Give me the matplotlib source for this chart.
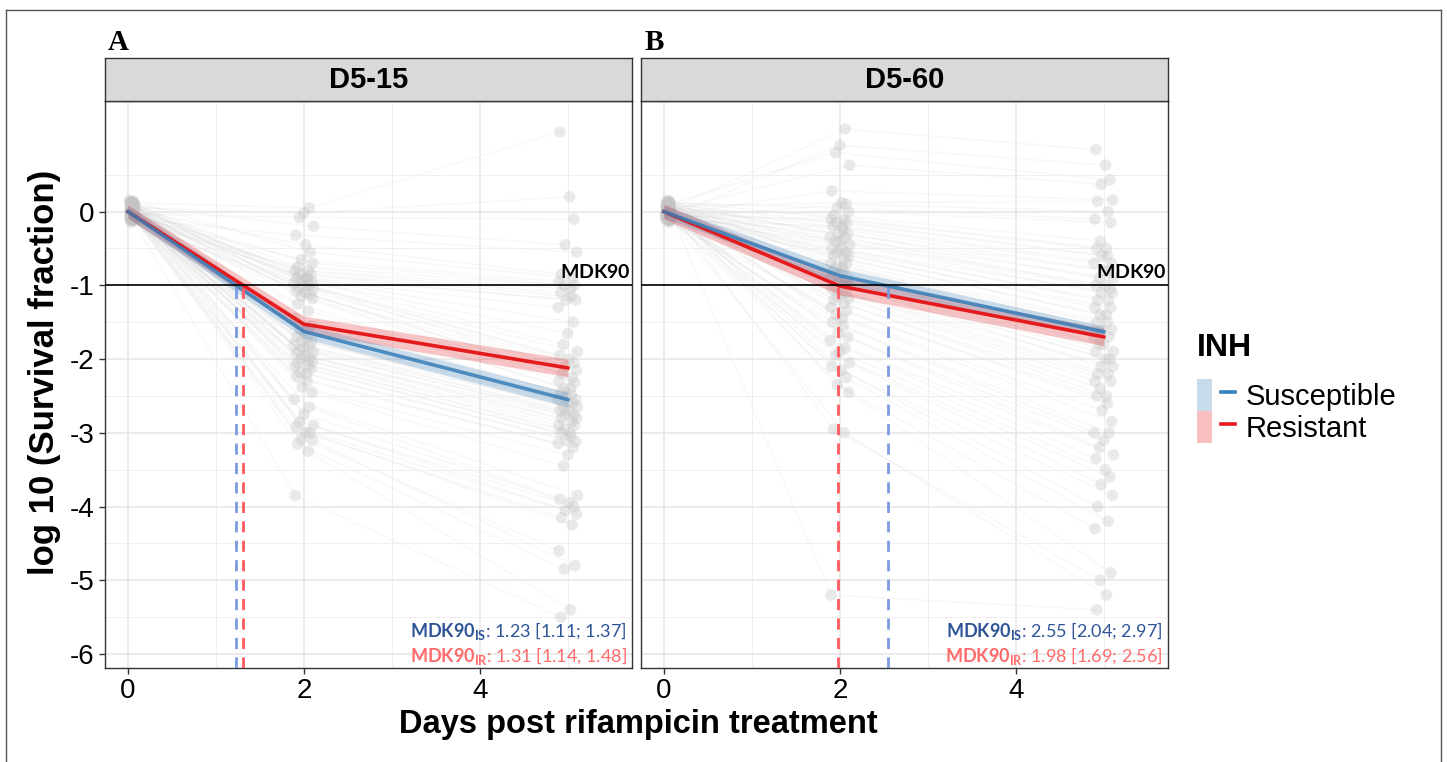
import matplotlib

matplotlib.use("Agg")
import matplotlib.pyplot as plt
from matplotlib.lines import Line2D
from matplotlib.patches import Patch
from matplotlib.legend_handler import HandlerTuple
import numpy as np

plt.rcParams["font.family"] = ["Liberation Sans", "DejaVu Sans"]
plt.rcParams["axes.unicode_minus"] = False
plt.rcParams["mathtext.fontset"] = "custom"
plt.rcParams["mathtext.rm"] = "Lato"
plt.rcParams["mathtext.bf"] = "Lato:bold"
plt.rcParams["mathtext.it"] = "Lato:italic"

# ---- data ----
DAYS = [0, 2, 5]
PANELS = ["D5-15", "D5-60"]
PANEL_TAGS = ["A", "B"]

# individual strain values (log10 survival fraction); day-2 and day-5 values are
# paired by rank to draw the per-strain trajectories
A_DAY0 = [0.12, 0.05, -0.03, 0.08, -0.1, 0.02, 0.15, -0.06, 0.0, 0.1,
          -0.12, 0.04, -0.02, 0.07, -0.08, 0.13, -0.04, 0.01, 0.09, -0.14,
          0.06, -0.01, 0.11, -0.07, 0.03, -0.11, 0.14, -0.05, 0.0, 0.08,
          -0.09, 0.05, -0.03, 0.1, -0.13, 0.02, 0.06, -0.06, 0.12, -0.02,
          0.04, -0.1, 0.07, -0.04, 0.01, 0.09, -0.08, 0.03,
          0.1, -0.05, 0.02, 0.13, -0.09, 0.06, -0.02, 0.08, -0.12, 0.04,
          0.0, 0.11, -0.07, 0.03, -0.04, 0.14, -0.1, 0.05, 0.01, -0.06,
          0.09, -0.03, 0.07, -0.11]
A_DAY2 = [0.05, -0.02, -0.08, -0.2, -0.32, -0.45, -0.55, -0.65, -0.75, -0.8,
          -0.85, -0.9, -0.93, -0.97, -1.0, -1.04, -1.08, -1.12, -1.18, -1.25,
          -1.35, -1.45, -1.55, -1.62, -1.7, -1.76, -1.82, -1.88, -1.93, -1.98,
          -2.03, -2.08, -2.13, -2.18, -2.24, -2.3, -2.38, -2.45, -2.55, -2.65,
          -2.75, -2.85, -2.92, -3.0, -3.08, -3.15, -3.25, -3.85,
          -0.85, -0.9, -0.95, -1.0, -1.05, -1.1, -0.8, -0.92, -1.6, -1.7,
          -1.8, -1.9, -2.0, -2.1, -2.2, -1.75, -1.85, -1.95, -2.05, -2.9,
          -3.0, -3.1, -0.7, -1.15]
A_DAY5 = [1.08, 0.2, -0.1, -0.45, -0.55, -0.85, -0.95, -1.0, -1.05, -1.15,
          -1.2, -1.3, -1.5, -1.65, -1.8, -1.95, -2.0, -2.05, -2.15, -2.25,
          -2.32, -2.4, -2.48, -2.55, -2.6, -2.65, -2.7, -2.75, -2.8, -2.85,
          -2.9, -2.95, -3.0, -3.05, -3.12, -3.2, -3.3, -3.45, -3.85, -3.95,
          -4.05, -4.15, -4.25, -4.6, -4.8, -4.85, -5.4, -5.5,
          -2.3, -2.4, -2.5, -2.6, -2.7, -2.8, -2.9, -3.0, -2.45, -2.55,
          -2.65, -2.75, -1.0, -1.1, -1.2, -1.9, -2.1, -3.9, -4.0, -4.1,
          -3.1, -3.15, -0.9, -2.2]

B_DAY0 = [0.03, -0.08, 0.09, 0.01, -0.04, 0.07, -0.1, 0.12, -0.02, 0.04,
          0.14, -0.06, 0.0, 0.1, -0.12, 0.05, -0.03, 0.08, -0.09, 0.02,
          0.13, -0.05, 0.06, -0.11, 0.01, 0.11, -0.07, 0.03, -0.14, 0.09,
          0.0, -0.04, 0.07, -0.1, 0.15, -0.02, 0.05, -0.08, 0.12, -0.01,
          0.04, -0.13, 0.08, -0.06, 0.02, 0.1, -0.03, 0.06,
          -0.07, 0.11, 0.02, -0.12, 0.08, -0.01, 0.05, -0.09, 0.13, 0.0,
          -0.04, 0.1, -0.06, 0.03, 0.07, -0.11, 0.01, 0.09, -0.03, 0.12,
          -0.08, 0.04, -0.02, 0.06]
B_DAY2 = [1.12, 0.9, 0.8, 0.63, 0.28, 0.12, 0.05, 0.0, -0.05, -0.1,
          -0.15, -0.2, -0.25, -0.3, -0.35, -0.4, -0.45, -0.5, -0.55, -0.6,
          -0.65, -0.7, -0.75, -0.8, -0.85, -0.9, -0.95, -1.0, -1.05, -1.1,
          -1.18, -1.25, -1.35, -1.4, -1.45, -1.55, -1.65, -1.75, -1.85, -1.95,
          -2.05, -2.15, -2.25, -2.35, -2.45, -2.95, -3.0, -5.2,
          -0.1, -0.2, -0.3, -0.4, -0.5, -0.6, -0.7, -0.8, -0.9, -1.0,
          -1.1, -1.2, -1.3, -0.15, -0.35, -0.55, -0.75, -0.95, -1.15, -1.5,
          -1.7, -1.9, -2.1, 0.1]
B_DAY5 = [0.84, 0.63, 0.43, 0.37, 0.16, 0.14, -0.1, -0.15, -0.4, -0.5,
          -0.6, -0.7, -0.8, -0.9, -1.0, -1.05, -1.1, -1.2, -1.3, -1.4,
          -1.5, -1.6, -1.7, -1.8, -1.9, -2.0, -2.1, -2.2, -2.3, -2.4,
          -2.5, -2.6, -2.7, -2.85, -3.0, -3.1, -3.2, -3.35, -3.5, -3.7,
          -3.85, -4.0, -4.2, -4.3, -4.9, -5.0, -5.2, -5.4,
          -0.5, -0.7, -0.9, -1.1, -1.3, -1.5, -1.7, -1.9, -2.1, -2.3,
          -0.6, -0.8, -1.0, -1.2, -1.4, -1.6, -1.8, -2.0, -2.2, -2.5,
          -3.0, -3.3, -3.6, 0.0]

# group means and CI half-widths at DAYS
A_SUS_MEAN = [0.0, -1.626, -2.55]
A_SUS_CI = [0.08, 0.09, 0.1]
A_RES_MEAN = [0.0, -1.527, -2.12]
A_RES_CI = [0.09, 0.11, 0.12]
B_SUS_MEAN = [0.0, -0.87, -1.63]
B_SUS_CI = [0.08, 0.1, 0.08]
B_RES_MEAN = [0.0, -1.01, -1.70]
B_RES_CI = [0.1, 0.12, 0.12]

MDK90_THRESHOLD = -1
MDK90_SUS = [1.23, 2.55]
MDK90_RES = [1.31, 1.98]
MDK90_SUS_TXT = ["1.23 [1.11; 1.37]", "2.55 [2.04; 2.97]"]
MDK90_RES_TXT = ["1.31 [1.14, 1.48]", "1.98 [1.69; 2.56]"]

# horizontal jitter used for the grey points (cycled)
JITTER = [-0.08, 0.04, -0.02, 0.09, -0.11, 0.06, 0.0, -0.05, 0.11, -0.09,
          0.02, 0.07, -0.03, 0.1, -0.07, 0.05, -0.1, 0.08, -0.04, 0.03]

C_SUS, C_RES = "#377EB8", "#E41A1C"
C_SUS_DASH, C_RES_DASH = "#7B9BE0", "#FF5A5F"
C_SUS_TXT, C_RES_TXT = "#2F5597", "#FF6B6B"

strains = [(A_DAY0, A_DAY2, A_DAY5), (B_DAY0, B_DAY2, B_DAY5)]
means = [(A_SUS_MEAN, A_SUS_CI, A_RES_MEAN, A_RES_CI),
         (B_SUS_MEAN, B_SUS_CI, B_RES_MEAN, B_RES_CI)]

W, H = 1447, 762
fig = plt.figure(figsize=(W / 100, H / 100), dpi=100)

# outer frame
for xs, ys in [((6, 1441), (10, 10)), ((6, 6), (10, 762)), ((1441, 1441), (10, 762))]:
    fig.add_artist(Line2D([x / W for x in xs], [1 - y / H for y in ys],
                          color="#555555", lw=1.0))

XLIM = (-0.26, 5.73)
YLIM = (-6.19, 1.47)
panel_lefts = [105, 641]
pw = 527
top_px, bot_px, strip_top = 101, 668, 58

for k, name in enumerate(PANELS):
    l = panel_lefts[k]
    ax = fig.add_axes([l / W, 1 - bot_px / H, pw / W, (bot_px - top_px) / H])
    sax = fig.add_axes([l / W, 1 - top_px / H, pw / W, (top_px - strip_top) / H])
    sax.set_facecolor("#D9D9D9")
    sax.set_xticks([])
    sax.set_yticks([])
    for sp in sax.spines.values():
        sp.set_color("#333333")
        sp.set_linewidth(1.0)
    sax.text(0.5, 0.48, name, ha="center", va="center", fontsize=21,
             fontweight="bold", transform=sax.transAxes)
    fig.text((l + 13) / W, 1 - 42 / H, PANEL_TAGS[k], family="Liberation Serif",
             fontweight="bold", fontsize=21, ha="center", va="center")

    ax.set_xlim(*XLIM)
    ax.set_ylim(*YLIM)
    ax.set_xticks([0, 2, 4])
    ax.set_xticks([1, 3, 5], minor=True)
    ax.set_yticks(range(-6, 1))
    ax.set_yticks(np.arange(-5.5, 1.6, 1.0), minor=True)
    ax.grid(True, which="major", color="#E6E6E6", lw=1.1, zorder=0)
    ax.grid(True, which="minor", color="#EFEFEF", lw=0.7, zorder=0)
    ax.tick_params(axis="both", which="major", labelsize=20, length=4,
                   color="#333333", width=1)
    ax.tick_params(axis="both", which="minor", length=0)
    if k == 1:
        ax.tick_params(axis="y", labelleft=False, length=0)
    for sp in ax.spines.values():
        sp.set_color("#333333")
        sp.set_linewidth(1.0)

    d0, d2, d5 = strains[k]
    d2s, d5s = sorted(d2, reverse=True), sorted(d5, reverse=True)
    for i, (y0, y2, y5) in enumerate(zip(d0, d2s, d5s)):
        xs = [DAYS[0] + 0.5 * abs(JITTER[i % len(JITTER)]) + 0.02,
              DAYS[1] + JITTER[(i + 5) % len(JITTER)],
              DAYS[2] + JITTER[(i + 9) % len(JITTER)]]
        ys = [y0, y2, y5]
        ax.plot(xs, ys, color="#BBBBBB", alpha=0.09, lw=1.2, zorder=1)
        ax.scatter(xs, ys, s=70, color="#C4C4C4", alpha=0.35, edgecolors="none",
                   zorder=2)

    sm, sci, rm, rci = means[k]
    sm, sci, rm, rci = map(np.array, (sm, sci, rm, rci))
    ax.fill_between(DAYS, rm - rci, rm + rci, color=C_RES, alpha=0.25, lw=0, zorder=3)
    ax.fill_between(DAYS, sm - sci, sm + sci, color=C_SUS, alpha=0.25, lw=0, zorder=3)
    ax.plot(DAYS, rm, color=C_RES, lw=2.6, zorder=4)
    ax.plot(DAYS, sm, color=C_SUS, lw=2.6, zorder=4, alpha=0.85)

    ax.axhline(MDK90_THRESHOLD, color="black", lw=1.2, zorder=5)
    ax.text(0.997, MDK90_THRESHOLD + 0.05, r"$\mathbf{MDK90}$", fontsize=14,
            ha="right", va="bottom", transform=ax.get_yaxis_transform(), zorder=6)
    ax.plot([MDK90_SUS[k]] * 2, [YLIM[0], MDK90_THRESHOLD], color=C_SUS_DASH,
            lw=2, ls=(0, (4, 3)), zorder=5)
    ax.plot([MDK90_RES[k]] * 2, [YLIM[0], MDK90_THRESHOLD], color=C_RES_DASH,
            lw=2, ls=(0, (4, 3)), zorder=5)

    ax.text(0.99, 0.066, r"$\mathbf{MDK90_{IS}}$: " + MDK90_SUS_TXT[k], color=C_SUS_TXT,
            family="Lato", fontsize=13, ha="right", va="center",
            transform=ax.transAxes, zorder=6)
    ax.text(0.99, 0.022, r"$\mathbf{MDK90_{IR}}$: " + MDK90_RES_TXT[k], color=C_RES_TXT,
            family="Lato", fontsize=13, ha="right", va="center",
            transform=ax.transAxes, zorder=6)

fig.text(638 / W, 1 - 724 / H, "Days post rifampicin treatment", fontsize=23.5,
         fontweight="bold", ha="center", va="center")
fig.text(45 / W, 1 - 372 / H, "log 10 (Survival fraction)", fontsize=25,
         fontweight="bold", ha="center", va="center", rotation=90)

# legend: title drawn separately to get the ggplot-like gap below it
fig.text(1197 / W, 1 - 348 / H, "INH", fontsize=23, fontweight="bold",
         ha="left", va="center")
handles = [(Patch(facecolor=C_SUS, alpha=0.28, edgecolor="none"),
            Line2D([], [], color=C_SUS, lw=2.6)),
           (Patch(facecolor=C_RES, alpha=0.28, edgecolor="none"),
            Line2D([], [], color=C_RES, lw=2.6))]
leg = fig.legend(handles, ["Susceptible", "Resistant"],
                 handler_map={tuple: HandlerTuple(ndivide=None)},
                 loc="upper left", bbox_to_anchor=(1174 / W, 1 - 356 / H),
                 frameon=False, fontsize=21,
                 handlelength=1.3, handleheight=1.3, handletextpad=0.35,
                 labelspacing=0.0, borderpad=0.3)

fig.savefig("out.png", dpi=100)
